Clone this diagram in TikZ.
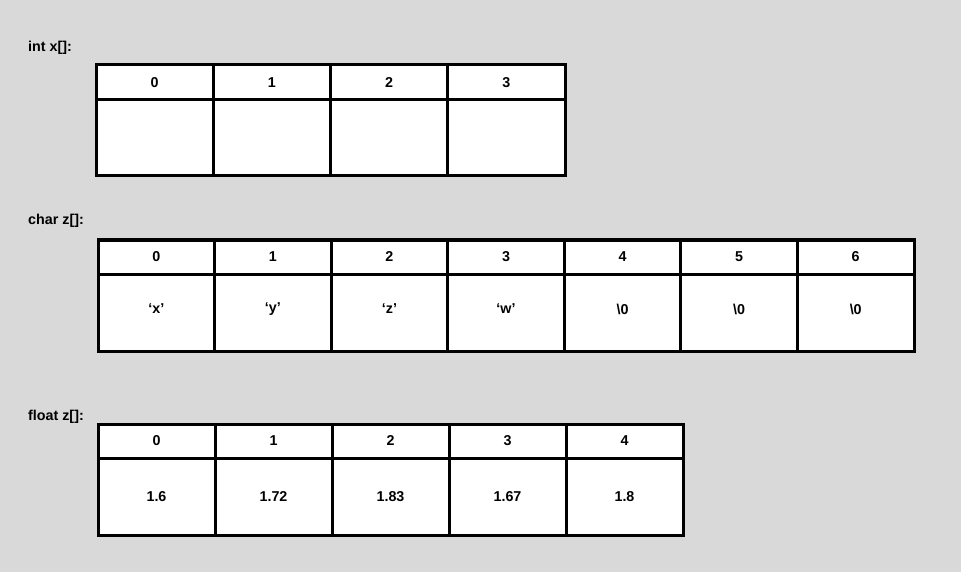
\documentclass[tikz,border=0pt]{standalone}
\usepackage{fontspec}
\setmainfont{Liberation Sans}
\definecolor{bg}{HTML}{D9D9D9}
\tikzset{
  cell/.style={draw=black, fill=white, line width=3pt, inner sep=0pt, outer sep=0pt,
    font=\fontsize{14.3}{17}\selectfont\bfseries, anchor=center},
  lbl/.style={anchor=base west, inner sep=0pt, font=\fontsize{14.3}{17}\selectfont\bfseries}
}
\begin{document}
\begin{tikzpicture}[x=1pt,y=-1pt]
\fill[bg] (0,0) rectangle (961,572);
\useasboundingbox (0,0) rectangle (961,572);
% labels
\node[lbl] (l1) at (28,52) {int x[]:};
\node[lbl] (l2) at (28,225) {char z[]:};
\node[lbl] (l3) at (28,420) {float z[]:};
% table 1
\def\wa{117.25}
\foreach \i in {0,...,3}{
  \node[cell, minimum width=\wa pt, minimum height=35pt] (ah\i) at ({96+(\i+0.5)*\wa},82.5) {\i};
  \node[cell, minimum width=\wa pt, minimum height=76pt] (ab\i) at ({96+(\i+0.5)*\wa},138) {};
}
% table 2
\def\wb{116.57}
\foreach \i/\v in {0/‘x’,1/‘y’,2/‘z’,3/‘w’,4/\textbackslash0,5/\textbackslash0,6/\textbackslash0}{
  \node[cell, minimum width=\wb pt, minimum height=34pt] (bh\i) at ({98+(\i+0.5)*\wb},257) {\i};
  \node[cell, minimum width=\wb pt, minimum height=77pt, text depth=0pt] (bb\i) at ({98+(\i+0.5)*\wb},312.5) {};
  \node[anchor=center, inner sep=0pt, font=\fontsize{14.3}{17}\selectfont\bfseries] (bt\i) at ({98+(\i+0.5)*\wb},309) {\v};
}
% table 3
\def\wc{117}
\foreach \i/\v in {0/1.6,1/1.72,2/1.83,3/1.67,4/1.8}{
  \node[cell, minimum width=\wc pt, minimum height=34pt] (ch\i) at ({98+(\i+0.5)*\wc},441) {\i};
  \node[cell, minimum width=\wc pt, minimum height=77pt] (cb\i) at ({98+(\i+0.5)*\wc},496.5) {\v};
}
\end{tikzpicture}
\end{document}
